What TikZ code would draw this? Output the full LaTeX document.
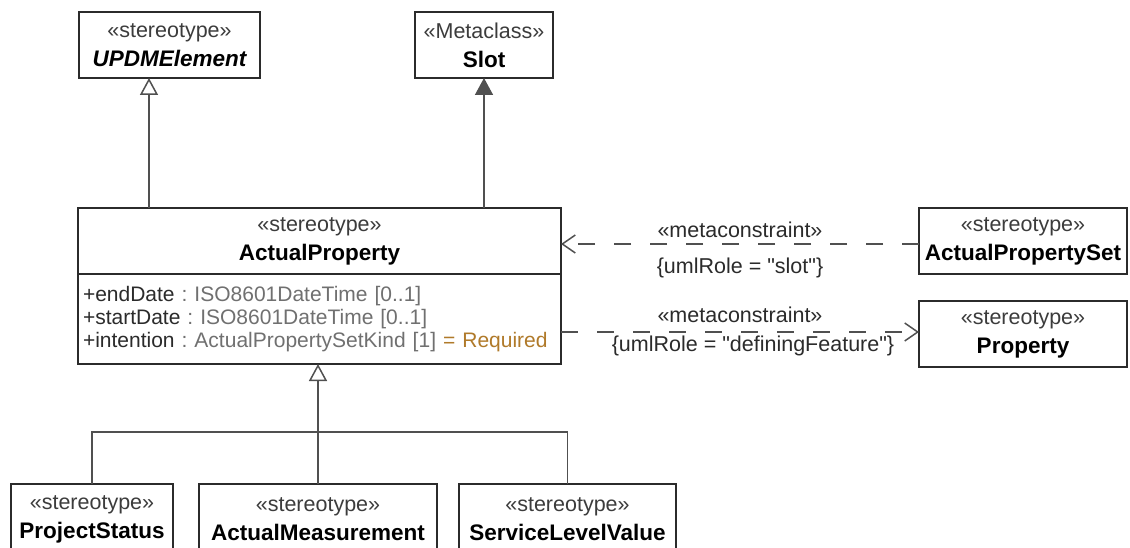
\documentclass[tikz,border=0pt]{standalone}
\usepackage{fontspec}
\setmainfont{Liberation Sans}
\usetikzlibrary{positioning,arrows.meta}

\definecolor{boxline}{HTML}{2B2B2B}
\definecolor{connline}{HTML}{505050}
\definecolor{stereotxt}{HTML}{3C3C3C}
\definecolor{typetxt}{HTML}{707070}
\definecolor{defaulttxt}{HTML}{B07A2A}

\newcommand{\stereo}[1]{{\color{stereotxt}«#1»}}
\newcommand{\umlname}[1]{{\fontsize{22.5}{29}\selectfont\bfseries #1}}
\newcommand{\umlattr}[2]{\textcolor{boxline}{+#1}~\textcolor{typetxt}{:~#2}}
\newcommand{\attrfont}{\fontsize{21}{23}\selectfont\hyphenpenalty=10000\relax}
\newcommand{\qt}{\textquotedbl}

\begin{document}
\begin{tikzpicture}
  [x=1pt, y=-1pt,
   classN/.style={draw=boxline,line width=1.6pt,fill=white,minimum height=66pt,
                  inner sep=0pt,outer sep=0pt,align=center,
                  font=\fontsize{21.5}{29}\selectfont},
   attrN/.style={classN,minimum height=90pt,inner xsep=5pt,align=left,
                 font=\attrfont},
   lblN/.style={font=\fontsize{21.5}{26}\selectfont,text=boxline,inner sep=0pt},
   conn/.style={draw=connline,line width=1.5pt},
   genL/.style={conn,-{Triangle[open,length=17pt,width=18pt,fill=white]}},
   extL/.style={conn,-{Triangle[length=17pt,width=18pt]}},
   metaL/.style={conn,dash pattern=on 17pt off 19pt,-{Straight Barb[length=13pt,width=18pt]}}]

  \useasboundingbox (0,0) rectangle (1130,548);

  % main stereotype
  \node[classN,minimum width=483pt] (aphead) at (319.5,241)
    {\stereo{stereotype}\\\umlname{ActualProperty}};
  \node[attrN,text width=473pt] (apattr) [below=0pt of aphead]
    {\umlattr{endDate}{ISO8601DateTime [0..1]}\\
     \umlattr{startDate}{ISO8601DateTime [0..1]}\\
     \umlattr{intention}{ActualPropertySetKind [1]}~\textcolor{defaulttxt}{=~Required}};

  % parents
  \node[classN,minimum width=181pt] (updm) [above right=130pt and 1pt of aphead.north west]
    {\stereo{stereotype}\\\umlname{\itshape UPDMElement}};
  \node[classN,minimum width=138pt] (slot) [right=155pt of updm]
    {\stereo{Metaclass}\\\umlname{Slot}};

  % constrained
  \node[classN,minimum width=208pt] (apset) [right=358pt of aphead]
    {\stereo{stereotype}\\\umlname{ActualPropertySet}};
  \node[classN,minimum width=208pt] (prop) [below=27pt of apset]
    {\stereo{stereotype}\\\umlname{Property}};

  % children
  \node[classN,minimum width=162pt,minimum height=70pt] (ps) [below right=120pt and -67pt of apattr.south west]
    {\stereo{stereotype}\\\umlname{ProjectStatus}};
  \node[classN,minimum width=238pt,minimum height=70pt] (am) [right=26pt of ps]
    {\stereo{stereotype}\\\umlname{ActualMeasurement}};
  \node[classN,minimum width=217pt,minimum height=70pt] (slv) [right=22pt of am]
    {\stereo{stereotype}\\\umlname{ServiceLevelValue}};

  % generalization / extension
  \draw[genL] ([xshift=-20.5pt]updm.south |- aphead.north) -- ([xshift=-20.5pt]updm.south);
  \draw[extL] (slot.south |- aphead.north) -- (slot.south);

  \path (am.north |- apattr.south) ++(0,68) coordinate (bus);
  \draw[conn] (ps.north) |- (bus);
  \draw[conn] (slv.north) |- (bus);
  \draw[genL] (am.north) -- (am.north |- apattr.south);

  % metaconstraints
  \draw[metaL] ([yshift=-3pt]apset.west) -- ([yshift=-3pt]apset.west -| aphead.east)
    node[lblN,midway,yshift=14pt] (mc1) {«metaconstraint»}
    node[lblN,midway,yshift=-24pt] (role1) {\{umlRole = \qt slot\qt\}};
  \draw[metaL] ([yshift=2pt]prop.west -| apattr.east) -- ([yshift=2pt]prop.west)
    node[lblN,midway,yshift=17pt] (mc2) {«metaconstraint»}
    node[lblN,midway,yshift=-14pt,xshift=13pt] (role2) {\{umlRole = \qt definingFeature\qt\}};
\end{tikzpicture}
\end{document}
